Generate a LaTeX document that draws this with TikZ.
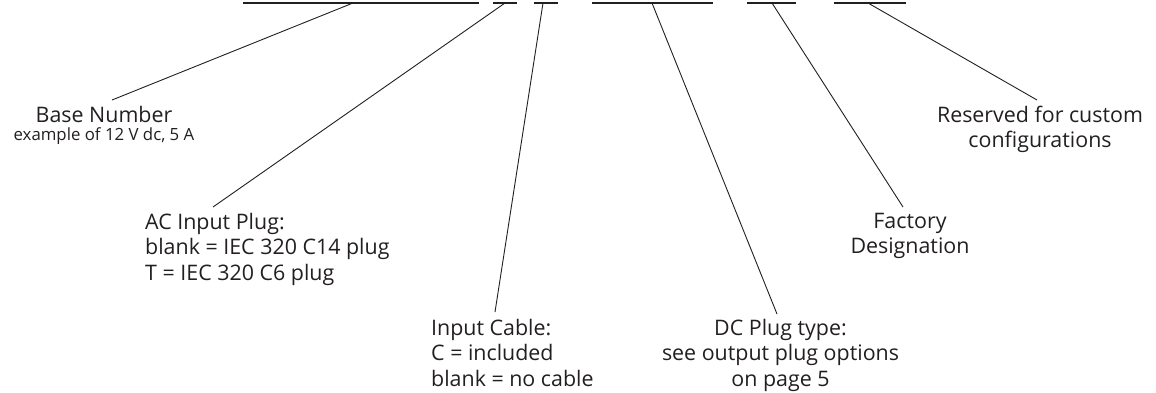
\documentclass[tikz,border=0pt]{standalone}
\usepackage{fontspec}
\setmainfont{Open Sans}
\definecolor{ink}{HTML}{231F20}
\begin{document}
\begin{tikzpicture}[x=1pt,y=-1pt,
  field/.style={line width=1.2pt, draw=ink},
  leader/.style={line width=0.9pt, draw=ink},
  lbl/.style={inner sep=0pt, text=ink, font=\fontsize{21.4}{25.5}\selectfont},
]
\useasboundingbox (0,0) rectangle (1156,392);

% top fields of the part number
\coordinate (s1a) at (243,3); \coordinate (s1b) at (479,3);
\coordinate (s2a) at (493,3); \coordinate (s2b) at (517,3);
\coordinate (s3a) at (534,3); \coordinate (s3b) at (558,3);
\coordinate (s4a) at (592,3); \coordinate (s4b) at (713,3);
\coordinate (s5a) at (747,3); \coordinate (s5b) at (796,3);
\coordinate (s6a) at (834,3); \coordinate (s6b) at (906,3);
\draw[field] (s1a) -- (s1b);
\draw[field] (s2a) -- (s2b);
\draw[field] (s3a) -- (s3b);
\draw[field] (s4a) -- (s4b);
\draw[field] (s5a) -- (s5b);
\draw[field] (s6a) -- (s6b);

% connector start points on the fields
\coordinate (f1) at (353,3);
\coordinate (f2) at (505,3);
\coordinate (f3) at (543,3);
\coordinate (f4) at (652,3);
\coordinate (f5) at (772,3);
\coordinate (f6) at (868,3);

% labels
\node[lbl, anchor=base] (base) at (104,122.3)
  {\begin{tabular}[t]{@{}c@{}}Base Number\\[-7.3pt]{\fontsize{16.8}{18}\selectfont example of 12 V dc, 5 A}\end{tabular}};
\node[lbl, anchor=base west] (ac) at (145,229.3)
  {\begin{tabular}[t]{@{}l@{}}AC Input Plug:\\blank = IEC 320 C14 plug\\T = IEC 320 C6 plug\end{tabular}};
\node[lbl, anchor=base west] (cable) at (431,335)
  {\begin{tabular}[t]{@{}l@{}}Input Cable:\\C = included\\blank = no cable\end{tabular}};
\node[lbl, anchor=base] (dc) at (780.5,335)
  {\begin{tabular}[t]{@{}c@{}}DC Plug type:\\see output plug options\\on page 5\end{tabular}};
\node[lbl, anchor=base] (factory) at (910,228)
  {\begin{tabular}[t]{@{}c@{}}Factory\\Designation\end{tabular}};
\node[lbl, anchor=base] (reserved) at (1040,122.3)
  {\begin{tabular}[t]{@{}c@{}}Reserved for custom\\configurations\end{tabular}};

% connector end points just above the labels
\coordinate (e1) at (112,100);
\coordinate (e2) at (213,207);
\coordinate (e3) at (495,312);
\coordinate (e4) at (777,314);
\coordinate (e5) at (903,207);
\coordinate (e6) at (1037,100);

\draw[leader] (f1) -- (e1);
\draw[leader] (f2) -- (e2);
\draw[leader] (f3) -- (e3);
\draw[leader] (f4) -- (e4);
\draw[leader] (f5) -- (e5);
\draw[leader] (f6) -- (e6);
\end{tikzpicture}
\end{document}
